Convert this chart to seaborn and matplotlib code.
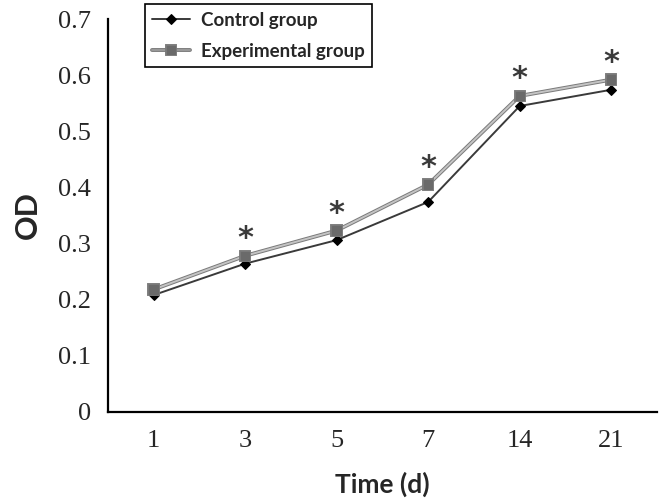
import pandas as pd
import matplotlib
matplotlib.use('Agg')
import matplotlib.pyplot as plt
import matplotlib.patheffects as pe
import seaborn as sns

# values
days = ['1', '3', '5', '7', '14', '21']
control = [0.208, 0.264, 0.306, 0.374, 0.545, 0.574]
experimental = [0.218, 0.278, 0.323, 0.405, 0.563, 0.592]
significant = [False, True, True, True, True, True]
y_ticks = [0, 0.1, 0.2, 0.3, 0.4, 0.5, 0.6, 0.7]
y_labels = ['0', '0.1', '0.2', '0.3', '0.4', '0.5', '0.6', '0.7']

df = pd.DataFrame({
    'Time (d)': days * 2,
    'OD': control + experimental,
    'group': ['Control group'] * len(days) + ['Experimental group'] * len(days),
})

sns.set_style('white')
plt.rcParams['font.family'] = ['Lato', 'DejaVu Sans']

fig = plt.figure(figsize=(6.61, 5.01), dpi=100)
ax = fig.add_axes([0.163, 0.178, 0.831, 0.784])

sns.lineplot(data=df, x='Time (d)', y='OD', hue='group', style='group',
             palette={'Control group': '#3a3a3a', 'Experimental group': '#c4c4c4'},
             markers={'Control group': 'D', 'Experimental group': 's'},
             dashes=False, sort=False, linewidth=1.4, ax=ax,
             markersize=6)

for ln in ax.get_lines():
    if ln.get_label() == 'Experimental group' or ln.get_marker() == 's':
        ln.set_markerfacecolor('#6a6a6a')
        ln.set_markeredgecolor('#6a6a6a')
        ln.set_markersize(6)
        ln.set_path_effects([pe.Stroke(linewidth=2.8, foreground='#7a7a7a'), pe.Normal()])
    else:
        ln.set_markerfacecolor('black')
        ln.set_markeredgecolor('black')
        ln.set_markersize(5)

for i, s in enumerate(significant):
    if s:
        ax.annotate('*', (i, experimental[i]), xytext=(0, 2), textcoords='offset points',
                    ha='center', va='bottom', fontsize=22, fontweight='bold',
                    color='#3a3a3a', family='DejaVu Sans')

ax.set_xlim(-0.5, len(days) - 0.5)
ax.set_ylim(0, 0.7)
ax.set_xticks([i - 0.5 for i in range(len(days) + 1)])
ax.set_xticklabels([])
ax.set_xticks(range(len(days)), minor=True)
ax.set_xticklabels(days, minor=True, family='Liberation Serif', fontsize=19)
ax.tick_params(axis='x', which='minor', length=0, pad=13)
ax.tick_params(axis='x', which='major', direction='in', length=9, width=1.3, color='black')
ax.set_yticks(y_ticks)
ax.set_yticklabels(y_labels, family='Liberation Serif', fontsize=19)
ax.tick_params(axis='y', direction='in', length=9, width=1.3, color='black', pad=12)

for side in ['top', 'right']:
    ax.spines[side].set_visible(False)
for side in ['left', 'bottom']:
    ax.spines[side].set_color('black')
    ax.spines[side].set_linewidth(1.6)

ax.set_xlabel('Time (d)', fontsize=19, fontweight='bold', labelpad=14)
ax.set_ylabel('OD', fontsize=22, fontweight='bold', labelpad=12)

leg = ax.legend(loc='upper left', bbox_to_anchor=(0.05, 1.062), frameon=True,
                fancybox=False, edgecolor='black', framealpha=1,
                prop={'weight': 'bold', 'size': 13.5}, handlelength=2.0,
                borderpad=0.4, labelspacing=0.75, handletextpad=0.6)
leg.get_frame().set_linewidth(1.2)
for h in leg.legend_handles:
    if h.get_label() == 'Experimental group':
        h.set_markerfacecolor('#6a6a6a')
        h.set_markeredgecolor('#6a6a6a')
        h.set_color('#9a9a9a')
    else:
        h.set_markerfacecolor('black')
        h.set_markeredgecolor('black')

fig.savefig('out.png', dpi=100)
